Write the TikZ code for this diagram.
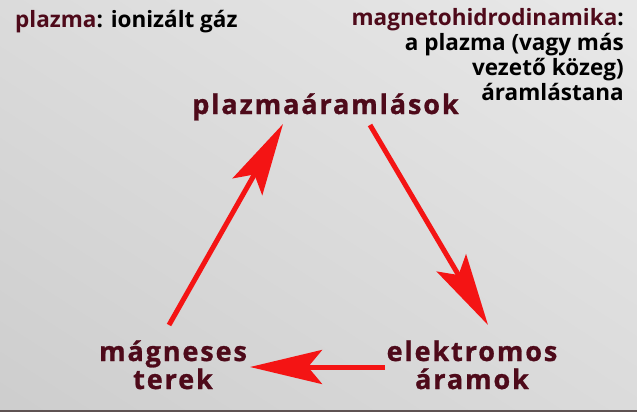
\documentclass[tikz,border=0pt]{standalone}
\usepackage{fontspec}
\setmainfont{Open Sans}
\newfontfamily\labfont{Open Sans}[LetterSpace=7,FakeBold=1]
\usetikzlibrary{arrows.meta}
\definecolor{maroon}{HTML}{4E0A1A}
\definecolor{arrred}{HTML}{F41414}
\definecolor{bglight}{HTML}{F6F6F6}
\definecolor{bgdark}{HTML}{C0C0C0}
\definecolor{edge}{HTML}{5E5252}
\tikzset{
  head/.style={font=\bfseries\fontsize{22.5}{25}\selectfont, inner sep=0pt},
  lab/.style={font=\labfont\bfseries\fontsize{27}{28}\selectfont, text=maroon, align=center, inner sep=0pt},
  flow/.style={draw=arrred, line width=5pt, -{Stealth[length=72pt,width=34pt,inset=14pt]}},
}
\begin{document}
\begin{tikzpicture}[x=1pt,y=-1pt]
\useasboundingbox (0,0) rectangle (637,412);
\begin{scope}
\clip (0,0) rectangle (637,412);
\shade[left color=bgdark, right color=bglight,
  transform canvas={rotate around={57.1:(318.5,206)}}]
  (-373.5,-244) rectangle (1010.5,656);
\end{scope}
\fill[edge] (0,409.5) rectangle (637,412);
\node[head, anchor=base west] (def) at (15,28) {\textcolor{maroon}{plazma}: ionizált gáz};
\node[head, anchor=north east, align=right] (mhd) at (624,8)
  {\textcolor{maroon}{magnetohidrodinamika}:\\a plazma (vagy más\\vezető közeg)\\áramlástana};
\node[lab, anchor=base] (flows) at (325.5,114) {plazmaáramlások};
\node[lab, anchor=base] (mag) at (173,389) {mágneses\\terek};
\node[lab, anchor=base] (cur) at (472,389) {elektromos\\áramok};
\coordinate (a1s) at (169,325);
\coordinate (a1e) at (283,124);
\coordinate (a2s) at (370,125);
\coordinate (a2e) at (488,325);
\coordinate (a3s) at (385,367);
\coordinate (a3e) at (250,367);
\draw[flow] (a1s) -- (a1e);
\draw[flow] (a2s) -- (a2e);
\draw[flow] (a3s) -- (a3e);
\end{tikzpicture}
\end{document}
